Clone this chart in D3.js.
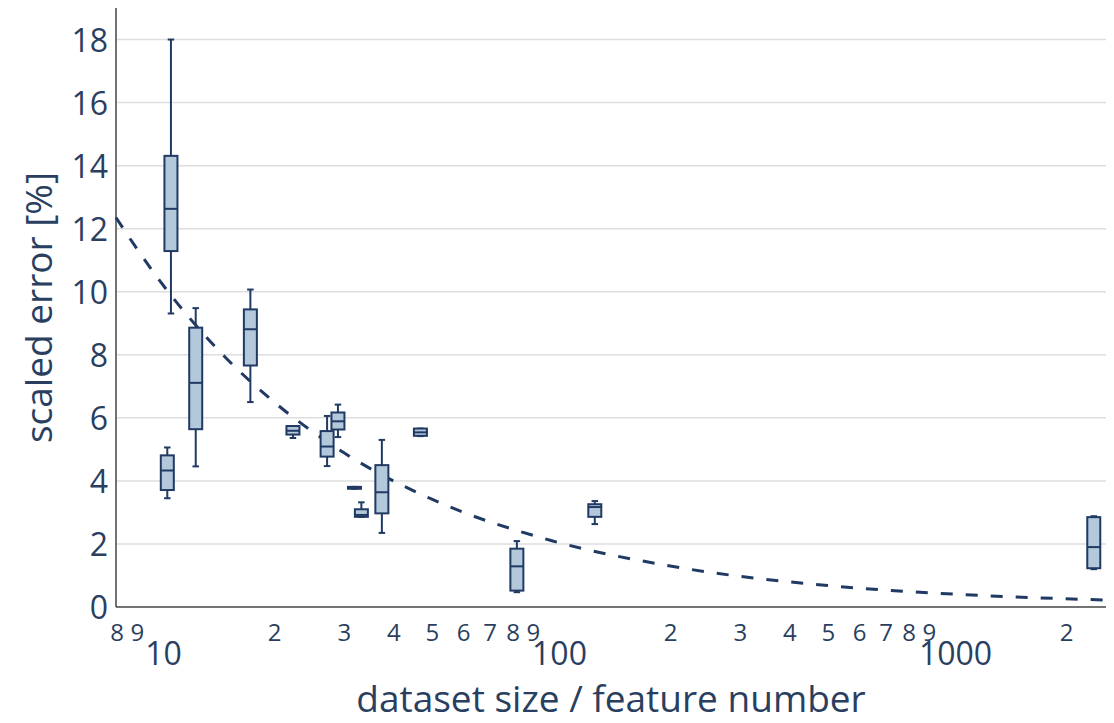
<!DOCTYPE html>
<html>
<head>
<meta charset="utf-8">
<script src="https://cdn.jsdelivr.net/npm/d3@7"></script>
<style>
  html, body { margin: 0; padding: 0; background: #fff; }
  svg { display: block; font-family: "Open Sans", sans-serif; }
</style>
</head>
<body>
<svg id="chart" width="1114" height="723"></svg>
<script>
// ---- data ----
const boxX      = [10.97, 10.74, 12.67, 17.41, 22.3, 27.2, 28.97, 31.9, 33.2, 37.4, 46.8, 82.0, 129, 2348];
const whiskLow  = [9.31, 3.45, 4.46, 6.50, 5.36, 4.47, 5.39, 3.75, 2.86, 2.35, 5.42, 0.47, 2.63, 1.20];
const q1        = [11.29, 3.71, 5.64, 7.66, 5.47, 4.77, 5.63, 3.75, 2.86, 2.97, 5.43, 0.52, 2.86, 1.23];
const median    = [12.63, 4.33, 7.11, 8.81, 5.59, 5.09, 5.89, 3.78, 2.92, 3.64, 5.54, 1.29, 3.17, 1.90];
const q3        = [14.31, 4.81, 8.86, 9.44, 5.74, 5.58, 6.17, 3.81, 3.10, 4.50, 5.66, 1.85, 3.26, 2.85];
const whiskHigh = [18.0, 5.06, 9.48, 10.07, 5.74, 6.06, 6.42, 3.81, 3.32, 5.30, 5.66, 2.09, 3.36, 2.88];

const fitX = [7.97, 10, 15, 20, 30, 50, 100, 200, 500, 1000, 2500];
const fitY = [12.35, 10.55, 7.94, 6.50, 4.89, 3.42, 2.11, 1.30, 0.68, 0.42, 0.22];

const yTicks = [0, 2, 4, 6, 8, 10, 12, 14, 16, 18];
const xMajorTicks = [10, 100, 1000];
const xMinorTicks = [8, 9, 20, 30, 40, 50, 60, 70, 80, 90, 200, 300, 400, 500, 600, 700, 800, 900, 2000];

const xTitle = "dataset size / feature number";
const yTitle = "scaled error [%]";

// ---- layout ----
const plot = { left: 116, right: 1106, top: 8, bottom: 607 };
const textColor = "#2a3f5f";
const boxLine = "#203a63";
const boxFill = "#b4c8dc";

const svg = d3.select("#chart");
const x = d3.scaleLog().domain([7.97, 2521]).range([plot.left, plot.right]);
const y = d3.scaleLinear().domain([0, 19]).range([plot.bottom, plot.top]);

// gridlines
svg.append("g").selectAll("line")
  .data(yTicks.filter(d => d > 0))
  .join("line")
  .attr("x1", plot.left).attr("x2", plot.right)
  .attr("y1", d => y(d)).attr("y2", d => y(d))
  .attr("stroke", "#dedede").attr("stroke-width", 1.5);

// y axis
const yAxis = svg.append("g")
  .attr("transform", `translate(${plot.left},0)`)
  .call(d3.axisLeft(y).tickValues(yTicks).tickSize(0).tickPadding(8));
yAxis.select(".domain").attr("stroke", "#444").attr("stroke-width", 1.5)
  .attr("d", `M0,${plot.top}V${plot.bottom}`);
yAxis.selectAll("text")
  .attr("fill", textColor).attr("font-size", 32)
  .attr("font-family", "Open Sans").attr("dy", "0.36em");

// x axis (minor labels)
const xAxisMinor = svg.append("g")
  .attr("transform", `translate(0,${plot.bottom})`)
  .call(d3.axisBottom(x).tickValues(xMinorTicks).tickSize(0).tickPadding(0)
    .tickFormat(d => String(d / Math.pow(10, Math.floor(Math.log10(d) + 1e-9)))));
xAxisMinor.select(".domain").attr("stroke", "#444").attr("stroke-width", 1.5)
  .attr("d", `M${plot.left},0H${plot.right}`);
xAxisMinor.selectAll("text")
  .attr("fill", textColor).attr("font-size", 24)
  .attr("font-family", "Open Sans").attr("y", 34).attr("dy", 0);

// x axis (major labels)
const xAxisMajor = svg.append("g")
  .attr("transform", `translate(0,${plot.bottom})`)
  .call(d3.axisBottom(x).tickValues(xMajorTicks).tickSize(0).tickPadding(0)
    .tickFormat(d3.format("d")));
xAxisMajor.select(".domain").remove();
xAxisMajor.selectAll("text")
  .attr("fill", textColor).attr("font-size", 32)
  .attr("font-family", "Open Sans").attr("x", 8).attr("y", 58).attr("dy", 0);

// fit curve (dashed)
const line = d3.line().x((d, i) => x(fitX[i])).y(d => y(d)).curve(d3.curveMonotoneX);
svg.append("path")
  .datum(fitY)
  .attr("d", line)
  .attr("fill", "none").attr("stroke", boxLine)
  .attr("stroke-width", 3).attr("stroke-dasharray", "12,13");

// boxes
const bw = 13, cw = 6.5;
const idx = d3.range(boxX.length);
const g = svg.append("g");
idx.forEach(i => {
  const cx = x(boxX[i]);
  const gg = g.append("g").attr("stroke", boxLine).attr("stroke-width", 2).attr("fill", "none");
  // whiskers
  gg.append("line").attr("x1", cx).attr("x2", cx).attr("y1", y(q3[i])).attr("y2", y(whiskHigh[i]));
  gg.append("line").attr("x1", cx).attr("x2", cx).attr("y1", y(q1[i])).attr("y2", y(whiskLow[i]));
  gg.append("line").attr("x1", cx - cw / 2).attr("x2", cx + cw / 2).attr("y1", y(whiskHigh[i])).attr("y2", y(whiskHigh[i]));
  gg.append("line").attr("x1", cx - cw / 2).attr("x2", cx + cw / 2).attr("y1", y(whiskLow[i])).attr("y2", y(whiskLow[i]));
  // box
  gg.append("rect")
    .attr("x", cx - bw / 2).attr("width", bw)
    .attr("y", y(q3[i])).attr("height", Math.max(0.01, y(q1[i]) - y(q3[i])))
    .attr("fill", boxFill);
  gg.append("line").attr("x1", cx - bw / 2).attr("x2", cx + bw / 2).attr("y1", y(median[i])).attr("y2", y(median[i]));
});

// axis titles
svg.append("text")
  .attr("x", (plot.left + plot.right) / 2).attr("y", 712)
  .attr("text-anchor", "middle").attr("fill", textColor)
  .attr("font-size", 37).attr("font-family", "Open Sans")
  .text(xTitle);
svg.append("text")
  .attr("transform", `translate(52,${(plot.top + plot.bottom) / 2}) rotate(-90)`)
  .attr("text-anchor", "middle").attr("fill", textColor)
  .attr("font-size", 37).attr("font-family", "Open Sans")
  .text(yTitle);
</script>
</body>
</html>
